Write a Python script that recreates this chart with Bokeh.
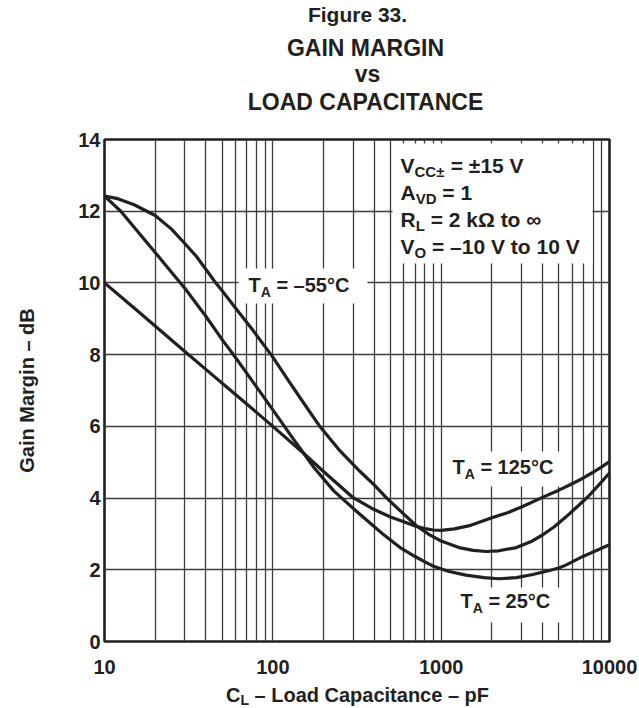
import math
from bokeh.plotting import figure
from bokeh.layouts import column
from bokeh.models import Range1d, FixedTicker, Label, BoxAnnotation, NumeralTickFormatter
from bokeh.embed import file_html
from bokeh.resources import INLINE

# ---------------- data ----------------
cap_m55 = [10, 12, 15, 20, 25, 30, 35, 40, 45, 50, 60, 77, 100, 125, 150, 190, 250, 330, 400, 475,
           600, 715, 850, 1000, 1300, 1550, 1850, 2200, 2800, 3400, 4000, 4700, 5500, 6500, 7500, 8700, 10000]
gm_m55 = [12.42, 12.35, 12.18, 11.88, 11.5, 11.1, 10.75, 10.38, 10.05, 9.78, 9.3, 8.65, 7.93, 7.25, 6.7, 6.0,
          5.32, 4.74, 4.37, 4.0, 3.55, 3.22, 2.98, 2.80, 2.61, 2.54, 2.51, 2.53, 2.62, 2.78, 2.97, 3.2, 3.47,
          3.78, 4.05, 4.38, 4.70]

cap_125 = [10, 15, 20, 30, 40, 60, 100, 150, 200, 300, 400, 500, 600, 700, 800, 900, 1000, 1200, 1500,
           2000, 2500, 3000, 4000, 5000, 6000, 7000, 8000, 9000, 10000]
gm_125 = [10.0, 9.30, 8.80, 8.09, 7.59, 6.89, 6.0, 5.28, 4.74, 4.01, 3.68, 3.47, 3.34, 3.22, 3.15, 3.11,
          3.10, 3.14, 3.24, 3.45, 3.60, 3.75, 4.02, 4.22, 4.40, 4.56, 4.72, 4.87, 5.02]

cap_25 = [10, 12.5, 15, 20, 25, 30, 40, 50, 60, 80, 100, 130, 175, 230, 330, 450, 570, 700, 800, 900,
          1100, 1400, 1800, 2200, 2800, 3500, 4400, 5000, 5500, 7000, 8500, 10000]
gm_25 = [12.42, 12.0, 11.55, 10.85, 10.3, 9.85, 9.07, 8.42, 7.92, 7.1, 6.46, 5.7, 4.86, 4.2, 3.54, 3.0,
         2.62, 2.37, 2.22, 2.1, 1.96, 1.85, 1.78, 1.75, 1.78, 1.87, 1.98, 2.05, 2.13, 2.38, 2.55, 2.70]

x_ticks = [10, 100, 1000, 10000]
x_tick_labels = ["10", "100", "1000", "10000"]
x_minor = [m * d for d in (10, 100, 1000) for m in range(2, 10)]
y_ticks = [0, 2, 4, 6, 8, 10, 12, 14]

title_lines = ["Figure 33.", "GAIN MARGIN", "vs", "LOAD CAPACITANCE"]
y_title = "Gain Margin – dB"

# ---------------- layout constants (page pixels) ----------------
FONT = "Liberation Sans"
INK = "#231f20"
GRID = "#3c3c3c"
W = 639
TOP_H = 118          # title strip
MAIN_H = 565         # plot strip
BOT_H = 708 - TOP_H - MAIN_H
FX0, FX1 = 104, 609  # frame left/right
FY0, FY1 = 139, 641  # frame top/bottom
BASE_FIX = 0.35      # Bokeh draws "alphabetic" text ~0.35 em lower than asked


def strip(height, y_top):
    # the column aligns plot frames, so the strip frame spans FX0..FX1
    f = figure(width=W, height=height, x_range=Range1d(FX0, FX1), y_range=Range1d(y_top + height, y_top),
               x_axis_location=None, y_axis_location=None, output_backend="svg", toolbar_location=None,
               min_border_left=FX0, min_border_right=W - FX1, min_border_top=0, min_border_bottom=0,
               title=None)
    f.outline_line_color = None
    f.background_fill_color = "white"
    f.border_fill_color = "white"
    f.grid.visible = False
    return f


top = strip(TOP_H, 0)
bot = strip(BOT_H, TOP_H + MAIN_H)

p = figure(width=W, height=MAIN_H, x_axis_type="log", title=None,
           x_range=Range1d(10, 10000), y_range=Range1d(0, 14),
           output_backend="svg", toolbar_location=None,
           min_border_left=FX0, min_border_right=W - FX1,
           min_border_top=FY0 - TOP_H, min_border_bottom=TOP_H + MAIN_H - FY1)
p.background_fill_color = "white"
p.border_fill_color = "white"
p.outline_line_color = INK
p.outline_line_width = 2.6

p.xaxis.ticker = FixedTicker(ticks=x_ticks)
p.xaxis.formatter = NumeralTickFormatter(format="0")
p.xaxis.major_label_overrides = {t: s for t, s in zip(x_ticks, x_tick_labels)}
p.yaxis.ticker = FixedTicker(ticks=y_ticks)
for ax in (p.xaxis[0], p.yaxis[0]):
    ax.axis_line_color = None
    ax.major_tick_line_color = None
    ax.minor_tick_line_color = None
    ax.major_tick_out = 0
    ax.major_tick_in = 0
    ax.minor_tick_out = 0
    ax.minor_tick_in = 0
    ax.major_label_text_font = FONT
    ax.major_label_text_font_style = "bold"
    ax.major_label_text_font_size = "20px"
    ax.major_label_text_color = INK
p.xaxis.major_label_standoff = 18
p.yaxis.major_label_standoff = 4
p.yaxis.axis_label = y_title
p.yaxis.axis_label_text_font = FONT
p.yaxis.axis_label_text_font_style = "bold"
p.yaxis.axis_label_text_font_size = "20px"
p.yaxis.axis_label_text_color = INK
p.yaxis.axis_label_standoff = 37

p.xgrid.ticker = FixedTicker(ticks=x_ticks, minor_ticks=x_minor)
p.xgrid.grid_line_color = GRID
p.xgrid.grid_line_width = 1.3
p.xgrid.minor_grid_line_color = GRID
p.xgrid.minor_grid_line_width = 1.3
p.ygrid.ticker = FixedTicker(ticks=y_ticks)
p.ygrid.grid_line_color = GRID
p.ygrid.grid_line_width = 1.3

for cx, gy in ((cap_m55, gm_m55), (cap_125, gm_125), (cap_25, gm_25)):
    p.line(cx, gy, line_color=INK, line_width=3.2, line_join="round", line_cap="round")


# ---------------- text helpers ----------------
def main_xy(px, py):
    return 10 ** (1 + (px - FX0) * 3.0 / (FX1 - FX0)), (FY1 - py) * 14.0 / (FY1 - FY0)


def page_xy(px, py):
    return px, py


WID = {' ': 278, '–': 556, '=': 584, '±': 584, '°': 400, '∞': 713, 'Ω': 768, '.': 278,
       'V': 667, 'C': 722, 'A': 722, 'D': 722, 'R': 722, 'L': 611, 'O': 778, 'T': 611,
       'k': 556, 't': 333, 'o': 611, 'p': 611, 'F': 611, 'a': 556, 'd': 611, 'c': 556,
       'i': 278, 'n': 611, 'e': 556, 'G': 778, 'M': 833, 'r': 389, 'g': 611, 'B': 722,
       'v': 556, 's': 556, 'I': 278, 'N': 722, 'P': 667, 'E': 667, 'u': 611}


def tw(s, size):
    return sum(WID.get(ch, 556) for ch in s) * size / 1000.0


def label(fig, conv, x, y, text, size, align="left"):
    dx, dy = conv(x, y - BASE_FIX * size)
    fig.add_layout(Label(x=dx, y=dy, text=text, text_font=FONT, text_font_style="bold",
                         text_font_size=f"{size}px", text_color=INK, text_align=align,
                         text_baseline="alphabetic"))


def rich(fig, conv, x, y, parts, size=20, sub=14, drop=5):
    for s, is_sub in parts:
        fs = sub if is_sub else size
        lead = len(s) - len(s.lstrip(" "))
        x += tw(" " * lead, fs)
        s = s.lstrip(" ")
        label(fig, conv, x, y + (drop if is_sub else 0), s, fs)
        x += tw(s, fs)


def rich_width(parts, size=20, sub=14):
    return sum(tw(s, sub if b else size) for s, b in parts)


def white_box(x0, x1, y0, y1):
    l, t = main_xy(x0, y0)
    r, b = main_xy(x1, y1)
    p.add_layout(BoxAnnotation(left=l, right=r, top=t, bottom=b,
                               fill_color="white", fill_alpha=1.0, line_color=None))


# white boxes behind in-plot labels
white_box(238, 367, 268, 303)
white_box(392, 592, 143, 263)
white_box(446, 562, 451, 486)
white_box(454, 562, 587, 622)

rich(p, main_xy, 248, 291, [("T", 0), ("A", 1), (" = –55°C", 0)])
rich(p, main_xy, 452, 473, [("T", 0), ("A", 1), (" = 125°C", 0)])
rich(p, main_xy, 460, 607, [("T", 0), ("A", 1), (" = 25°C", 0)])

cond = dict(size=21, sub=15, drop=4)
rich(p, main_xy, 400, 172, [("V", 0), ("CC±", 1), (" = ±15 V", 0)], **cond)
rich(p, main_xy, 400, 199, [("A", 0), ("VD", 1), (" = 1", 0)], **cond)
rich(p, main_xy, 400, 226, [("R", 0), ("L", 1), (" = 2 kΩ to ∞", 0)], **cond)
rich(p, main_xy, 400, 253, [("V", 0), ("O", 1), (" = –10 V to 10 V", 0)], **cond)

# title strip
label(top, page_xy, 357, 21, title_lines[0], 21, align="center")
label(top, page_xy, 365, 56, title_lines[1], 23, align="center")
label(top, page_xy, 367, 82, title_lines[2], 23, align="center")
label(top, page_xy, 365, 110, title_lines[3], 23, align="center")

# x axis title strip
xparts = [("C", 0), ("L", 1), (" – Load Capacitance – pF", 0)]
rich(bot, page_xy, 357 - rich_width(xparts) / 2, 701, xparts, drop=3)

layout = column(top, p, bot, spacing=0)
html = file_html(layout, INLINE, title="Gain margin vs load capacitance")
with open("out.html", "w") as f:
    f.write(html)
